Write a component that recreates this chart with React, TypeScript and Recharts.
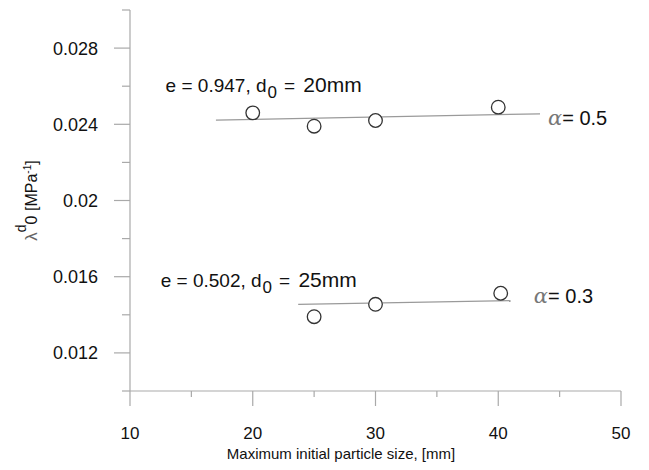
import { ComposedChart, Scatter, XAxis, YAxis, ReferenceLine } from 'recharts';

const FONT = '"Liberation Sans", Arial, Helvetica, sans-serif';
const AXIS = '#a9a9a9';

// measured points (max particle size [mm] vs lambda_d0 [1/MPa])
const sizesLoose = [20, 25, 30, 40];
const lambdaLoose = [0.0246, 0.0239, 0.0242, 0.0249];
const sizesDense = [25, 30, 40.2];
const lambdaDense = [0.0139, 0.01455, 0.01513];

// fitted lines (end points)
const fitLoose = [{ x: 17, y: 0.02422 }, { x: 43.4, y: 0.02455 }];
const fitDense = [{ x: 23.7, y: 0.01455 }, { x: 41, y: 0.01474 }];

// annotations
const voidRatios = ['0.947', '0.502'];
const d0Values = ['20mm', '25mm'];
const captionX = [12.9, 12.5];
const captionY = [0.0257, 0.01548];
const alphas = ['0.5', '0.3'];
const alphaX = [44.05, 42.9];
const alphaY = [0.02396, 0.01462];

const xTicks = [10, 15, 20, 25, 30, 35, 40, 45, 50];
const yTicks = [0.01, 0.012, 0.014, 0.016, 0.018, 0.02, 0.022, 0.024, 0.026, 0.028, 0.03];

const loose = sizesLoose.map((x, i) => ({ x, y: lambdaLoose[i] }));
const dense = sizesDense.map((x, i) => ({ x, y: lambdaDense[i] }));
const captions = voidRatios.map((e, i) => ({ x: captionX[i], y: captionY[i], e, d0: d0Values[i] }));
const alphaNotes = alphas.map((a, i) => ({ x: alphaX[i], y: alphaY[i], a }));

const XTick = ({ x, y, payload }: any) => {
  const major = payload.value % 10 === 0;
  return (
    <g>
      <line x1={x} x2={x} y1={y} y2={y + (major ? 15 : 6)} stroke={AXIS} strokeWidth={1.2} />
      {major && (
        <text x={x} y={y + 48} textAnchor="middle" fontSize={17} fontFamily={FONT} fill="#111">
          {payload.value}
        </text>
      )}
    </g>
  );
};

const YTick = ({ x, y, payload }: any) => {
  const major = Math.round(payload.value * 1000) % 4 === 0;
  return (
    <g>
      <line x1={x - (major ? 16 : 8)} x2={x} y1={y} y2={y} stroke={AXIS} strokeWidth={1.2} />
      {major && (
        <text x={x - 32} y={y} dy="0.36em" textAnchor="end" fontSize={18} fontFamily={FONT} fill="#111">
          {String(payload.value)}
        </text>
      )}
    </g>
  );
};

const XLabel = ({ viewBox }: any) => (
  <text x={viewBox.x + 211} y={viewBox.y + 68} textAnchor="middle" fontSize={15} fontFamily={FONT} fill="#111">
    Maximum initial particle size, [mm]
  </text>
);

const YLabel = ({ viewBox }: any) => {
  const cx = viewBox.x - 23;
  const cy = viewBox.y + viewBox.height / 2;
  return (
    <text x={cx} y={cy} transform={`rotate(-90, ${cx}, ${cy})`} textAnchor="middle" fontSize={16} fontFamily={FONT} fill="#111">
      <tspan fill="#666" fontSize={17}>λ</tspan>
      <tspan fontSize={14} dy={-11}>d</tspan>
      <tspan dy={11}>0</tspan>
      <tspan> [MPa</tspan>
      <tspan fontSize={10} dy={-6}>-1</tspan>
      <tspan dy={6}>]</tspan>
    </text>
  );
};

const Circle = ({ cx, cy }: any) => (
  <circle cx={cx} cy={cy} r={6.8} fill="#fff" stroke="#333" strokeWidth={1.3} />
);

const Caption = ({ cx, cy, payload }: any) => (
  <text x={cx} y={cy} fontSize={19} fontFamily={FONT} fill="#111">
    <tspan>e = {payload.e}, d</tspan>
    <tspan fontSize={17} dx={1} dy={6}>0</tspan>
    <tspan dx={7} dy={-6}>= </tspan>
    <tspan dx={3} fontSize={21}>{payload.d0}</tspan>
  </text>
);

const AlphaNote = ({ cx, cy, payload }: any) => (
  <text x={cx} y={cy} fontSize={20} fontFamily={FONT} fill="#111">
    <tspan fill="#777" fontStyle="italic" fontSize={21} fontFamily="'DejaVu Serif', serif">α</tspan>
    <tspan>= {payload.a}</tspan>
  </text>
);

export default function App() {
  return (
    <div style={{ position: 'absolute', left: 0, top: 0, width: 649, height: 470, background: '#fff' }}>
      <ComposedChart width={649} height={470} margin={{ top: 10, right: 28, bottom: 0, left: 60 }}>
        <XAxis
          type="number"
          dataKey="x"
          domain={[10, 50]}
          ticks={xTicks}
          interval={0}
          tick={<XTick />}
          tickLine={false}
          tickSize={0}
          tickMargin={0}
          axisLine={{ stroke: AXIS, strokeWidth: 1.2 }}
          height={79}
          allowDataOverflow
          label={{ content: XLabel }}
        />
        <YAxis
          type="number"
          dataKey="y"
          domain={[0.01, 0.03]}
          ticks={yTicks}
          interval={0}
          tick={<YTick />}
          tickLine={false}
          tickSize={0}
          tickMargin={0}
          axisLine={{ stroke: AXIS, strokeWidth: 1.2 }}
          width={70}
          allowDataOverflow
          label={{ content: YLabel }}
        />
        <ReferenceLine segment={fitLoose} stroke="#9a9a9a" strokeWidth={1.2} />
        <ReferenceLine segment={fitDense} stroke="#9a9a9a" strokeWidth={1.2} />
        <Scatter data={loose} shape={<Circle />} isAnimationActive={false} />
        <Scatter data={dense} shape={<Circle />} isAnimationActive={false} />
        <Scatter data={captions} shape={<Caption />} isAnimationActive={false} />
        <Scatter data={alphaNotes} shape={<AlphaNote />} isAnimationActive={false} />
      </ComposedChart>
    </div>
  );
}
